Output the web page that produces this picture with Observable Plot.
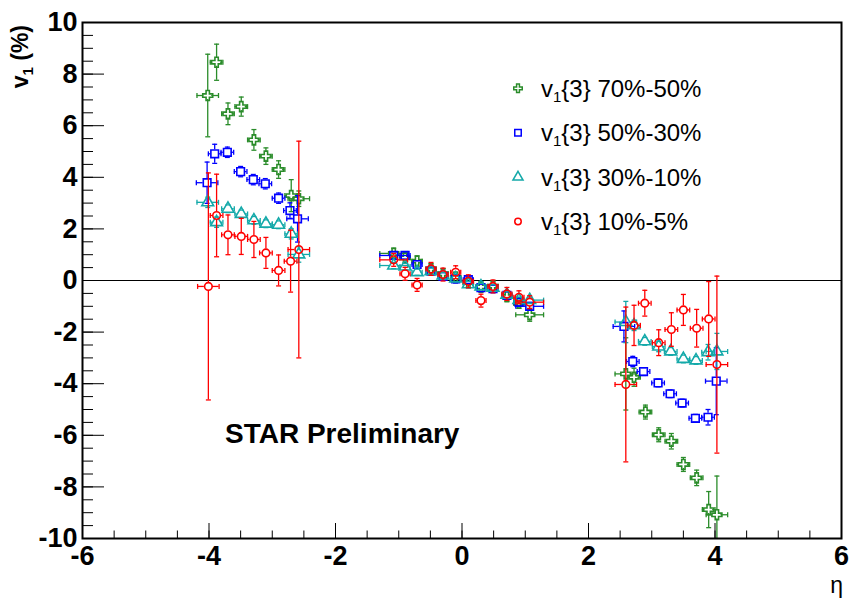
<!DOCTYPE html>
<html><head><meta charset="utf-8">
<script src="https://cdn.jsdelivr.net/npm/d3@7"></script>
<script src="https://cdn.jsdelivr.net/npm/@observablehq/plot@0.6"></script>
<style>body{margin:0;background:#fff} svg{display:block}</style>
</head><body><div id="chart"></div>
<script>
// ---- data (η, v1 %, vertical error, horizontal half-width) ----
const etaG = [-4.02,-3.88,-3.70,-3.49,-3.29,-3.10,-2.90,-2.70,-2.58, -1.08,-0.90,-0.71,-0.49,-0.30,-0.10,0.10,0.30,0.49,0.71,0.90,1.07, 2.59,2.72,2.90,3.11,3.31,3.50,3.71,3.90,4.03];
const vG   = [7.17,8.46,6.46,6.74,5.45,4.82,4.30,3.29,3.17, 1.05,0.88,0.75,0.45,0.26,0.12,-0.08,-0.25,-0.22,-0.62,-0.88,-1.33, -3.62,-3.75,-5.10,-5.98,-6.23,-7.13,-7.65,-8.88,-9.08];
const eyG  = [1.6,0.7,0.42,0.37,0.4,0.32,0.34,0.62,0.3, 0.2,0.2,0.2,0.2,0.2,0.2,0.2,0.2,0.2,0.2,0.2,0.25, 1.4,0.35,0.27,0.27,0.3,0.27,0.3,0.7,1.5];

const etaB = [-4.03,-3.91,-3.71,-3.50,-3.30,-3.11,-2.90,-2.72,-2.60, -1.08,-0.90,-0.71,-0.49,-0.30,-0.10,0.10,0.30,0.49,0.71,0.90,1.07, 2.56,2.70,2.87,3.10,3.29,3.48,3.69,3.89,4.02];
const vB   = [3.79,4.91,4.97,4.22,3.91,3.75,3.19,2.71,2.39, 0.97,0.97,0.62,0.36,0.16,0.06,0.03,-0.28,-0.32,-0.58,-0.84,-1.00, -1.78,-3.14,-3.53,-3.97,-4.39,-4.75,-5.34,-5.30,-3.90];
const eyB  = [0.8,0.37,0.2,0.2,0.2,0.2,0.2,0.3,0.9, 0.15,0.15,0.15,0.15,0.15,0.15,0.15,0.15,0.15,0.15,0.15,0.15, 0.6,0.2,0.15,0.15,0.15,0.15,0.15,0.3,1.3];

const etaC = [-4.02,-3.88,-3.70,-3.49,-3.29,-3.10,-2.90,-2.70,-2.58, -1.08,-0.90,-0.71,-0.49,-0.30,-0.10,0.10,0.30,0.49,0.71,0.90,1.07, 2.59,2.72,2.89,3.11,3.30,3.50,3.70,3.89,4.03];
const vC   = [3.03,2.26,2.78,2.58,2.33,2.20,2.16,1.81,1.01, 0.58,0.54,0.32,0.36,0.19,0.08,-0.15,-0.23,-0.28,-0.55,-0.76,-0.76, -1.61,-1.74,-2.36,-2.56,-2.75,-3.04,-3.10,-2.78,-2.75];
const eyC  = [0.2,0.2,0.15,0.15,0.15,0.15,0.15,0.2,0.3, 0.12,0.12,0.12,0.12,0.12,0.12,0.12,0.12,0.12,0.12,0.12,0.12, 0.8,0.2,0.15,0.2,0.15,0.15,0.15,0.3,0.7];

const etaR = [-4.01,-3.88,-3.70,-3.49,-3.29,-3.10,-2.90,-2.71,-2.58, -1.08,-0.90,-0.71,-0.49,-0.30,-0.10,0.10,0.30,0.49,0.71,0.90,1.07, 2.59,2.72,2.89,3.11,3.31,3.50,3.71,3.90,4.03];
const vR   = [-0.23,2.52,1.77,1.71,1.59,1.07,0.39,0.75,1.20, 0.80,0.26,-0.17,0.45,0.23,0.32,-0.03,-0.78,-0.23,-0.52,-0.65,-0.84, -4.03,-1.74,-0.88,-2.41,-1.90,-1.14,-1.85,-1.49,-3.26];
const eyR  = [4.4,1.6,0.77,0.7,0.7,0.6,0.6,1.2,4.2, 0.25,0.25,0.25,0.25,0.25,0.25,0.25,0.25,0.25,0.25,0.25,0.25, 3.0,0.78,0.5,0.5,0.65,0.6,0.73,1.45,3.43];

// horizontal half-widths (bin) — same binning for all series
const exBins = [0.17,0.1,0.1,0.1,0.1,0.1,0.1,0.1,0.17, 0.22,0.08,0.08,0.08,0.08,0.08,0.08,0.08,0.08,0.08,0.08,0.22, 0.17,0.1,0.1,0.1,0.1,0.1,0.1,0.1,0.17];

const seriesNames = ["70%-50%","50%-30%","30%-10%","10%-5%"];
const seriesColors = ["#2a8c2a","#0000ff","#14a9a9","#ff0000"];
const seriesSymbols = ["cross","square","triangle","circle"];
const xMajor = [-6,-4,-2,0,2,4,6];
const yMajor = [-10,-8,-6,-4,-2,0,2,4,6,8,10];
const xMinor = d3.range(-6, 6.001, 0.5);
const yMinor = d3.range(-10, 10.001, 0.5);

// ---- layout ----
const W = 849, H = 601, mL = 82, mR = 8, mT = 22, mB = 63;
const pxY = (H - mT - mB) / 20, pxX = (W - mL - mR) / 12;
const gapPx = 4;
const gY = gapPx / pxY, gX = gapPx / pxX;

const seriesData = [
  [etaG, vG, eyG], [etaB, vB, eyB], [etaC, vC, eyC], [etaR, vR, eyR]
];
const symR = {cross: 4.2, square: 4.3, triangle: 4.4, circle: 3.8};
const hCap = {draw(ctx){ctx.moveTo(-2.5,0); ctx.lineTo(2.5,0);}};
const vCap = {draw(ctx){ctx.moveTo(0,-2.5); ctx.lineTo(0,2.5);}};

const marks = [Plot.ruleY([0], {stroke: "black", strokeWidth: 1})];
seriesData.forEach(([eta, v, ey], k) => {
  const color = seriesColors[k];
  const rows = eta.map((e, i) => ({eta: e, v: v[i], ey: ey[i], ex: exBins[i]}));
  const vr = rows.filter(d => d.ey > gY * 1.2);
  const common = {stroke: color, strokeWidth: 1.3, clip: true};
  marks.push(
    Plot.ruleX(vr, {x: "eta", y1: d => d.v + gY, y2: d => d.v + d.ey, ...common}),
    Plot.ruleX(vr, {x: "eta", y1: d => d.v - d.ey, y2: d => d.v - gY, ...common}),
    Plot.ruleY(rows, {y: "v", x1: d => d.eta - d.ex, x2: d => d.eta - gX, ...common}),
    Plot.ruleY(rows, {y: "v", x1: d => d.eta + gX, x2: d => d.eta + d.ex, ...common}),
    Plot.dot(rows, {x: "eta", y: d => d.v + d.ey, symbol: hCap, r: 3, fill: "none", ...common}),
    Plot.dot(rows, {x: "eta", y: d => d.v - d.ey, symbol: hCap, r: 3, fill: "none", ...common}),
    Plot.dot(rows, {x: d => d.eta - d.ex, y: "v", symbol: vCap, r: 3, fill: "none", ...common}),
    Plot.dot(rows, {x: d => d.eta + d.ex, y: "v", symbol: vCap, r: 3, fill: "none", ...common}),
    Plot.dot(rows, {x: "eta", y: "v", symbol: seriesSymbols[k], r: symR[seriesSymbols[k]], fill: "none", stroke: color, strokeWidth: 1.6, clip: true})
  );
});

const fontB = {fontSize: 27, fontWeight: "bold"};
marks.push(
  Plot.axisX({ticks: xMinor, tickSize: -7.5, tickFormat: () => "", strokeWidth: 1, label: null}),
  Plot.axisX({ticks: xMajor, tickSize: -15, tickFormat: () => "", strokeWidth: 1, label: null}),
  Plot.axisX({ticks: xMajor, tickSize: 0, tickPadding: 7, tickFormat: d => String(d), label: null, ...fontB}),
  Plot.axisY({ticks: yMinor, tickSize: -11, tickFormat: () => "", strokeWidth: 1, label: null}),
  Plot.axisY({ticks: yMajor, tickSize: -22, tickFormat: () => "", strokeWidth: 1, label: null}),
  Plot.axisY({ticks: yMajor, tickSize: 0, tickPadding: 5, tickFormat: d => String(d), label: null, ...fontB}),
  Plot.frame({stroke: "black", strokeWidth: 2})
);

const svg = Plot.plot({
  width: W, height: H,
  marginLeft: mL, marginRight: mR, marginTop: mT, marginBottom: mB,
  x: {domain: [-6, 6], label: null},
  y: {domain: [-10, 10], label: null},
  style: {fontFamily: "'Liberation Sans', Arial, Helvetica, sans-serif", background: "white", color: "black", overflow: "visible"},
  marks
});

const g = d3.select(svg).append("g")
  .attr("font-family", "'Liberation Sans', Arial, Helvetica, sans-serif")
  .attr("text-anchor", "start");

// y-axis title
const yt = g.append("text").attr("transform", "translate(28,25) rotate(-90)")
  .attr("text-anchor", "end").attr("font-weight", "bold").attr("font-size", 23);
yt.append("tspan").text("v");
yt.append("tspan").attr("font-size", 15).attr("dy", 5).text("1");
yt.append("tspan").attr("dy", -5).text(" (%)");

// x-axis title
g.append("text").attr("x", 843).attr("y", 593).attr("text-anchor", "end")
  .attr("font-size", 23).text("η");

// STAR Preliminary
g.append("text").attr("x", 225).attr("y", 443).attr("font-weight", "bold")
  .attr("font-size", 28).text("STAR Preliminary");

// legend
seriesNames.forEach((name, k) => {
  const cy = 88.3 + k * 44.4;
  const sym = d3.symbol().type({cross: d3.symbolCross, square: d3.symbolSquare, triangle: d3.symbolTriangle, circle: d3.symbolCircle}[seriesSymbols[k]])
    .size(Math.PI * Math.pow(symR[seriesSymbols[k]] * 0.85, 2));
  g.append("path").attr("d", sym()).attr("transform", `translate(518,${cy})`)
    .attr("fill", "none").attr("stroke", seriesColors[k]).attr("stroke-width", 1.5);
  const t = g.append("text").attr("x", 541).attr("y", cy + 8.5).attr("font-size", 24);
  t.append("tspan").text("v");
  t.append("tspan").attr("font-size", 15).attr("dy", 5).text("1");
  t.append("tspan").attr("dy", -5).text("{3} " + name);
});

document.getElementById("chart").appendChild(svg);
</script>
</body></html>
